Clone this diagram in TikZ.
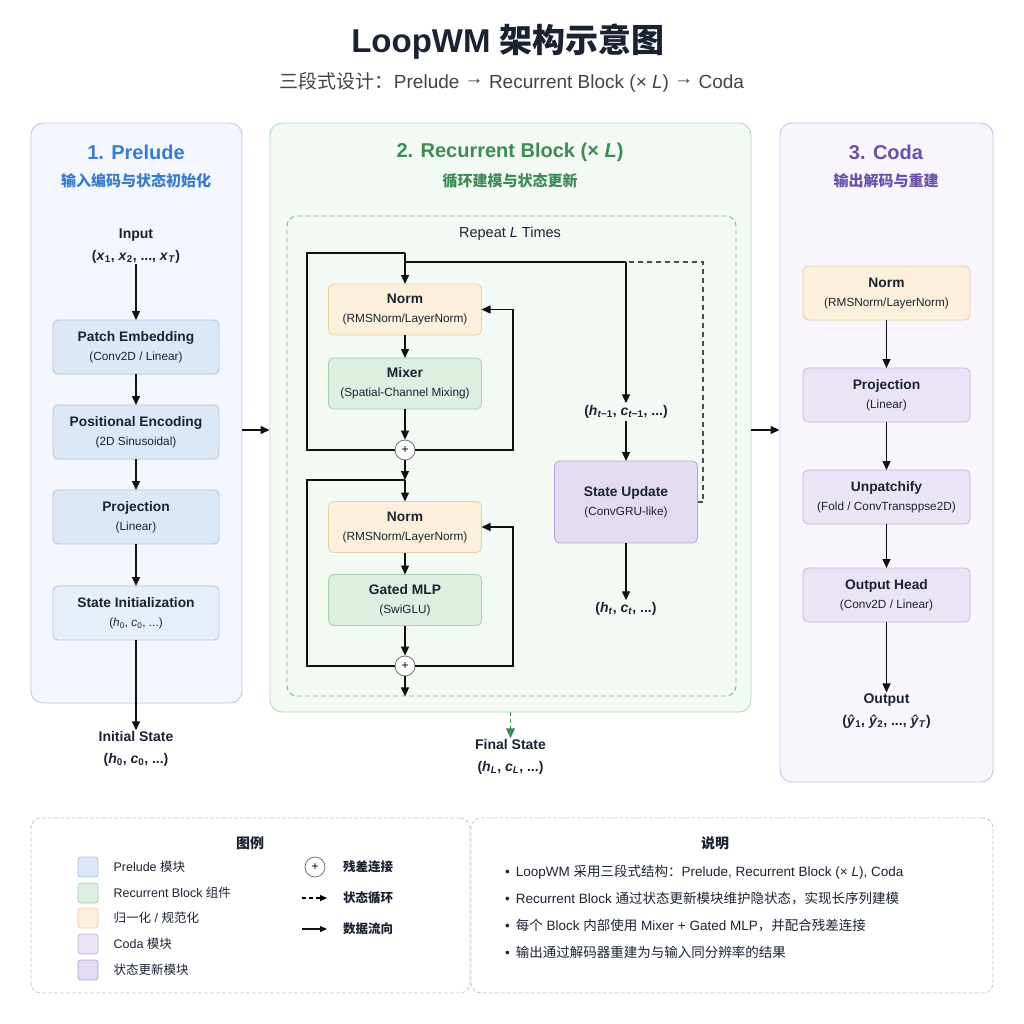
\documentclass[tikz,border=0pt]{standalone}
\usepackage{fontspec}
\setmainfont{Liberation Sans}
\newfontfamily\cjk{Noto Sans CJK SC}
\usepackage{tikz}
\usetikzlibrary{arrows.meta, positioning, calc}

\definecolor{inkdark}{HTML}{1B2333}
\definecolor{inkline}{HTML}{111111}
\definecolor{inkgrey}{HTML}{444444}
\definecolor{preblue}{HTML}{3B7BCC}
\definecolor{prebg}{HTML}{F3F7FD}
\definecolor{preline}{HTML}{B7CBE6}
\definecolor{preboxfill}{HTML}{DDE8F7}
\definecolor{preboxlight}{HTML}{E6EEF9}
\definecolor{preboxline}{HTML}{A8C2E6}
\definecolor{recgreen}{HTML}{3D8B55}
\definecolor{recbg}{HTML}{F3F9F3}
\definecolor{recline}{HTML}{B5D8BB}
\definecolor{repline}{HTML}{7CB58A}
\definecolor{mixfill}{HTML}{DCEFE0}
\definecolor{mixline}{HTML}{A6D2B0}
\definecolor{normfill}{HTML}{FCF0DC}
\definecolor{normline}{HTML}{EBCF9F}
\definecolor{statefill}{HTML}{E4DBF3}
\definecolor{stateline}{HTML}{B6A3DC}
\definecolor{codapurple}{HTML}{6B50A8}
\definecolor{codabg}{HTML}{F8F5FC}
\definecolor{codaline}{HTML}{CDC2E4}
\definecolor{codafill}{HTML}{EBE4F6}
\definecolor{codaboxline}{HTML}{C3B4E0}
\definecolor{legline}{HTML}{C9C9C9}

\newcommand{\sv}[2]{\textit{#1}\textsubscript{#2}}
\newcommand{\boxtitle}[1]{{\fontsize{13.8}{19}\selectfont\bfseries #1}}
\newcommand{\rarr}{\raisebox{0.18em}{→}}

\tikzset{
  panel/.style={rounded corners=12pt, line width=0.9pt, inner sep=0pt},
  prepanel/.style={panel, draw=preline, fill=prebg},
  recpanel/.style={panel, draw=recline, fill=recbg},
  codapanel/.style={panel, draw=codaline, fill=codabg},
  repbox/.style={rounded corners=10pt, draw=repline, line width=0.9pt,
    dash pattern=on 5pt off 3pt, inner sep=0pt},
  heading/.style={font=\fontsize{20}{24}\selectfont\bfseries},
  subheading/.style={font=\fontsize{15}{18}\selectfont\cjk\bfseries},
  block/.style={rounded corners=5pt, line width=0.8pt, align=center,
    inner sep=2pt, outer sep=0pt, text=inkdark,
    font=\fontsize{11.8}{19}\selectfont},
  prebox/.style={block, draw=preboxline, fill=preboxfill,
    minimum width=166pt, minimum height=54pt},
  normbox/.style={block, draw=normline, fill=normfill,
    minimum width=153pt, minimum height=51pt},
  mixbox/.style={block, draw=mixline, fill=mixfill,
    minimum width=153pt, minimum height=51pt},
  statebox/.style={block, draw=stateline, fill=statefill,
    minimum width=143pt, minimum height=82pt},
  codabox/.style={block, draw=codaboxline, fill=codafill,
    minimum width=167pt, minimum height=54pt},
  iolabel/.style={align=center, font=\fontsize{14}{22}\selectfont\bfseries,
    text=inkdark, inner sep=1pt},
  plusnode/.style={circle, draw=black!55, fill=white, minimum size=20pt,
    inner sep=0pt, line width=0.8pt, font=\fontsize{12}{12}\selectfont},
  wire/.style={line width=1.3pt, inkline},
  flow/.style={wire, -{Triangle[length=9pt,width=8pt]}},
  loopline/.style={wire, black!70, dash pattern=on 5pt off 4pt},
  greenflow/.style={line width=1.3pt, recgreen, dash pattern=on 4pt off 3pt,
    -{Triangle[length=10pt,width=9pt]}},
  legbox/.style={rounded corners=10pt, draw=legline, line width=0.8pt,
    dash pattern=on 4pt off 2pt, fill=white, inner sep=0pt},
  swatch/.style={rounded corners=3pt, line width=0.8pt, minimum size=20pt,
    inner sep=0pt},
  legtext/.style={anchor=west, inner sep=0pt, text=inkdark,
    font=\fontsize{12.5}{15}\selectfont},
  notetext/.style={anchor=west, inner sep=0pt, text=inkdark,
    font=\fontsize{13.5}{16}\selectfont},
  boxhead/.style={font=\fontsize{14}{16}\selectfont\cjk\bfseries, text=inkdark},
}

\begin{document}
\begin{tikzpicture}[x=1pt, y=-1pt]

  \fill[white] (0,0) rectangle (1024,1024);
  \useasboundingbox (0,0) rectangle (1024,1024);

  % Title
  \node[font=\fontsize{33}{36}\selectfont\bfseries, text=inkdark] (title) at (508,42)
    {LoopWM {\cjk 架构示意图}};
  \node[font=\fontsize{19}{22}\selectfont, text=inkgrey] (subtitle) at (512,82)
    {{\cjk 三段式设计：}Prelude \rarr{} Recurrent Block (× \textit{L}) \rarr{} Coda};

  % Panels
  \node[prepanel, minimum width=211pt, minimum height=580pt] (prelude) at (136.5,413) {};
  \node[recpanel, minimum width=481pt, minimum height=589pt] (recur) at (510.5,417.5) {};
  \node[codapanel, minimum width=213pt, minimum height=659pt] (coda) at (886.5,452.5) {};

  \node[heading, text=preblue] (pretitle) at (136,152) {1. Prelude};
  \node[subheading, text=preblue] (presub) at (136,181) {输入编码与状态初始化};
  \node[heading, text=recgreen] (rectitle) at (510,152) {2. Recurrent Block (× \textit{L})};
  \node[subheading, text=recgreen] (recsub) at (510,181) {循环建模与状态更新};
  \node[heading, text=codapurple] (codatitle) at (886,152) {3. Coda};
  \node[subheading, text=codapurple] (codasub) at (886,181) {输出解码与重建};

  % Prelude column
  \node[iolabel] (input) at (136,246)
    {Input\\(\sv{x}{1}, \sv{x}{2}, ..., \sv{x}{\textit{T}})};
  \node[prebox] (patch) at (136,347)
    {\boxtitle{Patch Embedding}\\(Conv2D / Linear)};
  \node[prebox, below=31pt of patch] (posenc)
    {\boxtitle{Positional Encoding}\\(2D Sinusoidal)};
  \node[prebox, below=31pt of posenc] (proj)
    {\boxtitle{Projection}\\(Linear)};
  \node[prebox, fill=preboxlight, below=42pt of proj] (stinit)
    {\boxtitle{State Initialization}\\(\sv{h}{0}, \sv{c}{0}, ...)};
  \node[iolabel] (initstate) at (136,749)
    {Initial State\\(\sv{h}{0}, \sv{c}{0}, ...)};

  \draw[flow] (input) -- (patch);
  \draw[flow] (patch) -- (posenc);
  \draw[flow] (posenc) -- (proj);
  \draw[flow] (proj) -- (stinit);
  \draw[flow] (stinit) -- (initstate);

  % Between panels
  \coordinate (midrow) at (0,430);
  \draw[flow] (prelude.east |- midrow) -- (recur.west |- midrow);
  \draw[flow] (recur.east |- midrow) -- (coda.west |- midrow);

  % Recurrent block
  \node[repbox, minimum width=449pt, minimum height=480pt] (rep) at (511.5,456) {};
  \node[font=\fontsize{14.5}{17}\selectfont, text=inkdark] (reptext) at (510,234)
    {Repeat \textit{L} Times};

  \node[normbox] (norm1) at (405,309.5)
    {\boxtitle{Norm}\\(RMSNorm/LayerNorm)};
  \node[mixbox, below=23pt of norm1] (mixer)
    {\boxtitle{Mixer}\\(Spatial-Channel Mixing)};
  \node[plusnode] (plus1) at (405,450) {+};
  \node[normbox] (norm2) at (405,527)
    {\boxtitle{Norm}\\(RMSNorm/LayerNorm)};
  \node[mixbox, below=22pt of norm2] (mlp)
    {\boxtitle{Gated MLP}\\(SwiGLU)};
  \node[plusnode] (plus2) at (405,666) {+};

  \node[statebox] (state) at (626,502)
    {\boxtitle{State Update}\\(ConvGRU-like)};
  \node[iolabel, inner sep=2pt] (hprev) at (626,412)
    {(\sv{h}{\textit{t}−1}, \sv{c}{\textit{t}−1}, ...)};
  \node[iolabel, inner sep=2pt] (hnext) at (626,609)
    {(\sv{h}{\textit{t}}, \sv{c}{\textit{t}}, ...)};

  \coordinate (topin) at (405,253);
  \coordinate (jn) at (626,262);
  \coordinate (skipL1) at (307,450);
  \coordinate (skipR1) at (513,450);
  \coordinate (split2) at (405,480);
  \coordinate (skipL2) at (307,666);
  \coordinate (skipR2) at (513,666);
  \coordinate (loopR) at (703,262);

  % Sub-block 1
  \draw[wire] (topin) -| (skipL1) -- (plus1.west);
  \draw[flow] (topin) -- (norm1.north);
  \draw[wire] (jn) -- (jn -| topin);
  \draw[flow] (norm1) -- (mixer);
  \draw[flow] (mixer) -- (plus1);
  \draw[flow] (plus1.east) -- (skipR1) |- (norm1.east);

  % Sub-block 2
  \draw[flow] (plus1.south) -- (split2);
  \draw[flow] (split2) -- (norm2.north);
  \draw[wire] (split2) -| (skipL2) -- (plus2.west);
  \draw[flow] (norm2) -- (mlp);
  \draw[flow] (mlp) -- (plus2);
  \draw[flow] (plus2.east) -- (skipR2) |- (norm2.east);
  \draw[flow] (plus2.south) -- (plus2.south |- rep.south);

  % State path
  \draw[flow] (jn) -- (hprev.north);
  \draw[flow] (hprev.south) -- (state.north);
  \draw[flow] (state.south) -- (hnext.north);
  \draw[loopline] (state.east) -- (state.east -| loopR) -- (loopR) -- (jn);

  % Final state
  \node[iolabel] (final) at (510.5,757)
    {Final State\\(\sv{h}{\textit{L}}, \sv{c}{\textit{L}}, ...)};
  \draw[greenflow] (recur.south) -- (final.north);

  % Coda column
  \node[codabox, fill=normfill, draw=normline] (cnorm) at (886.5,293)
    {\boxtitle{Norm}\\(RMSNorm/LayerNorm)};
  \node[codabox, below=48pt of cnorm] (cproj)
    {\boxtitle{Projection}\\(Linear)};
  \node[codabox, below=48pt of cproj] (unpatch)
    {\boxtitle{Unpatchify}\\(Fold / ConvTransppse2D)};
  \node[codabox, below=44pt of unpatch] (head)
    {\boxtitle{Output Head}\\(Conv2D / Linear)};
  \node[iolabel] (output) at (886.5,711)
    {Output\\(\sv{ŷ}{1}, \sv{ŷ}{2}, ..., \sv{ŷ}{\textit{T}})};

  \draw[flow] (cnorm) -- (cproj);
  \draw[flow] (cproj) -- (unpatch);
  \draw[flow] (unpatch) -- (head);
  \draw[flow] (head) -- (output);

  % Legend
  \node[legbox, minimum width=439pt, minimum height=175pt] (legend) at (250.5,905.5) {};
  \node[boxhead] (legtitle) at (250,843) {图例};

  \node[swatch, fill=preboxfill, draw=preboxline] (swpre) at (88,867) {};
  \node[legtext, right=15pt of swpre] (lgpre) {Prelude {\cjk 模块}};
  \node[swatch, fill=mixfill, draw=mixline] (swrec) at (88,893) {};
  \node[legtext, right=15pt of swrec] (lgrec) {Recurrent Block {\cjk 组件}};
  \node[swatch, fill=normfill, draw=normline] (swnorm) at (88,918) {};
  \node[legtext, right=15pt of swnorm] (lgnorm) {{\cjk 归一化} / {\cjk 规范化}};
  \node[swatch, fill=codafill, draw=codaboxline] (swcoda) at (88,944) {};
  \node[legtext, right=15pt of swcoda] (lgcoda) {Coda {\cjk 模块}};
  \node[swatch, fill=statefill, draw=stateline] (swstate) at (88,970) {};
  \node[legtext, right=15pt of swstate] (lgstate) {{\cjk 状态更新模块}};

  \node[plusnode] (lgplus) at (315,867) {+};
  \node[legtext, font=\fontsize{12.5}{15}\selectfont\cjk\bfseries] (lgres) at (343,867) {残差连接};
  \coordinate (dashA) at (302,898);
  \coordinate (dashB) at (327,898);
  \draw[loopline, black, dash pattern=on 4pt off 3pt,
        -{Triangle[length=7pt,width=6pt]}] (dashA) -- (dashB);
  \node[legtext, font=\fontsize{12.5}{15}\selectfont\cjk\bfseries] (lgloop) at (343,898) {状态循环};
  \coordinate (solidA) at (302,929);
  \coordinate (solidB) at (327,929);
  \draw[wire, -{Triangle[length=7pt,width=6pt]}] (solidA) -- (solidB);
  \node[legtext, font=\fontsize{12.5}{15}\selectfont\cjk\bfseries] (lgflow) at (343,929) {数据流向};

  % Notes
  \node[legbox, minimum width=522pt, minimum height=175pt] (notes) at (732,905.5) {};
  \node[boxhead] (notetitle) at (715,843) {说明};
  \node[notetext] (note1) at (505,872)
    {•\hspace{6pt}LoopWM {\cjk 采用三段式结构：}Prelude, Recurrent Block (× \textit{L}), Coda};
  \node[notetext] (note2) at (505,898)
    {•\hspace{6pt}Recurrent Block {\cjk 通过状态更新模块维护隐状态，实现长序列建模}};
  \node[notetext] (note3) at (505,925)
    {•\hspace{6pt}{\cjk 每个} Block {\cjk 内部使用} Mixer + Gated MLP{\cjk ，并配合残差连接}};
  \node[notetext] (note4) at (505,952)
    {•\hspace{6pt}{\cjk 输出通过解码器重建为与输入同分辨率的结果}};

\end{tikzpicture}
\end{document}
